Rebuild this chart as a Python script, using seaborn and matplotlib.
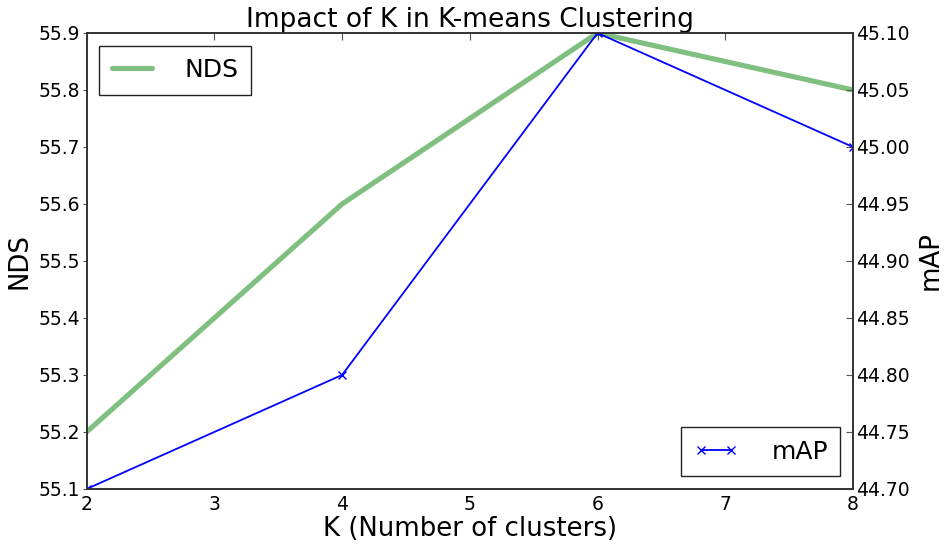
import matplotlib
matplotlib.use("Agg")
import matplotlib.pyplot as plt
import seaborn as sns
import pandas as pd

# values
k_values = [2, 4, 6, 8]
nds_values = [55.2, 55.6, 55.9, 55.8]
map_values = [44.70, 44.80, 45.10, 45.00]

nds_ticks = [55.1, 55.2, 55.3, 55.4, 55.5, 55.6, 55.7, 55.8, 55.9]
map_ticks = [44.70, 44.75, 44.80, 44.85, 44.90, 44.95, 45.00, 45.05, 45.10]
k_ticks = [2, 3, 4, 5, 6, 7, 8]

sns.set_style("white")
plt.rcParams["font.family"] = ["DejaVu Sans"]
plt.rcParams["text.color"] = "black"
plt.rcParams["axes.labelcolor"] = "black"
plt.rcParams["xtick.color"] = "black"
plt.rcParams["ytick.color"] = "black"

df = pd.DataFrame({"K": k_values, "NDS": nds_values, "mAP": map_values})

fig = plt.figure(figsize=(9.52, 5.5), dpi=100)
ax1 = fig.add_axes([0.091, 0.111, 0.805, 0.829])
ax2 = ax1.twinx()

sns.lineplot(data=df, x="K", y="NDS", ax=ax1, color="green", alpha=0.5,
             linewidth=3.7, label="NDS")
sns.lineplot(data=df, x="K", y="mAP", ax=ax2, color="blue", linewidth=1.3,
             marker="x", markersize=6, markeredgewidth=1.0,
             markeredgecolor="blue", label="mAP")

ax1.set_xlim(2, 8)
ax1.set_ylim(55.1, 55.9)
ax2.set_ylim(44.70, 45.10)
ax1.set_xticks(k_ticks)
ax1.set_yticks(nds_ticks)
ax2.set_yticks(map_ticks)
ax1.set_yticklabels([f"{v:.1f}" for v in nds_ticks])
ax2.set_yticklabels([f"{v:.2f}" for v in map_ticks])

ax1.set_xlabel("K (Number of clusters)", fontsize=18.7, labelpad=2)
ax1.set_ylabel("NDS", fontsize=18.7)
ax2.set_ylabel("mAP", fontsize=18.7, labelpad=6)
ax1.set_title("Impact of K in K-means Clustering", fontsize=19, pad=1)

ax1.tick_params(axis="x", which="both", direction="in", length=5,
                top=True, labelsize=13.5, pad=4, color="#555555")
ax1.tick_params(axis="y", direction="out", length=3, labelsize=13.5,
                pad=2, color="#555555")
ax2.tick_params(axis="y", direction="in", length=5, labelsize=13.5,
                pad=2, color="#555555")

for ax in (ax1, ax2):
    for spine in ax.spines.values():
        spine.set_color("#333333")
        spine.set_linewidth(1.2)
    ax.grid(False)

leg1 = ax1.legend(loc="upper left", fontsize=18, fancybox=False,
                  handlelength=1.6, borderpad=0.5, handletextpad=1.3,
                  borderaxespad=0.5, framealpha=1)
leg1.get_frame().set_edgecolor("#222222")
leg2 = ax2.legend(loc="lower right", fontsize=18, fancybox=False, numpoints=2,
                  handlelength=1.8, borderpad=0.5, handletextpad=1.3,
                  borderaxespad=0.5, framealpha=1)
leg2.get_frame().set_edgecolor("#222222")

fig.savefig("out.png", dpi=100)
